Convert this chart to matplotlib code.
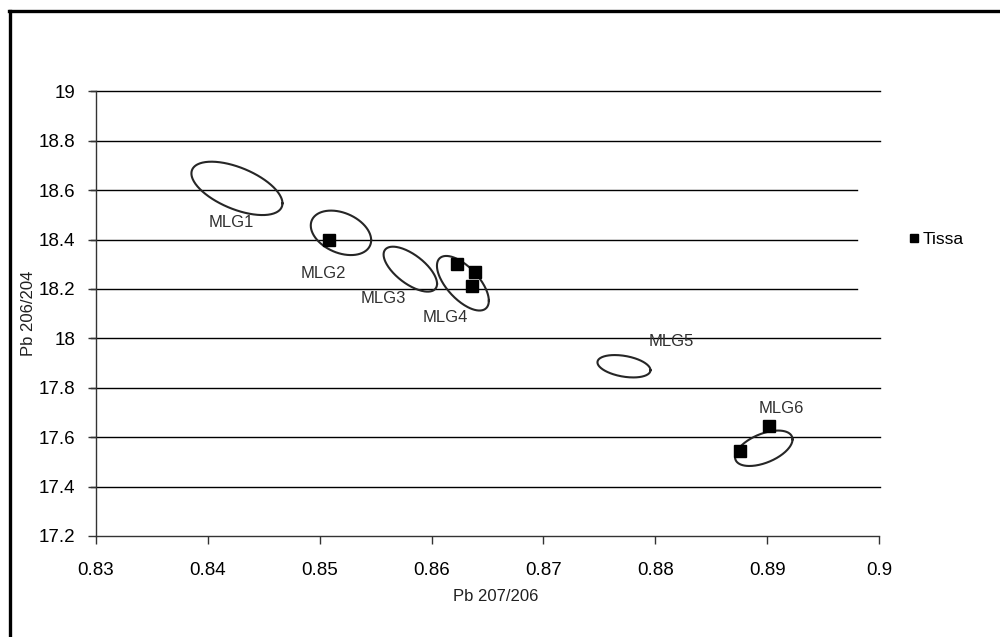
import numpy as np
import matplotlib
matplotlib.use("Agg")
import matplotlib.pyplot as plt
from matplotlib.lines import Line2D
from matplotlib.transforms import blended_transform_factory

plt.rcParams['font.family'] = ['Liberation Sans', 'DejaVu Sans']

# Tissa samples (Pb 207/206, Pb 206/204)
tissa_x = [0.8508, 0.8623, 0.8639, 0.8636, 0.8876, 0.8902]
tissa_y = [18.40, 18.30, 18.27, 18.21, 17.545, 17.645]

# MLG fields drawn as ellipses: centre, half extents and tilt (correlation)
mlg_names = ["MLG1", "MLG2", "MLG3", "MLG4", "MLG5", "MLG6"]
mlg_cx = [0.8426, 0.8519, 0.8581, 0.8628, 0.8772, 0.8897]
mlg_cy = [18.607, 18.427, 18.280, 18.223, 17.887, 17.555]
mlg_sx = [0.00407, 0.00270, 0.00239, 0.00232, 0.00237, 0.00257]
mlg_sy = [0.108, 0.090, 0.091, 0.1105, 0.0453, 0.0717]
mlg_rho = [-0.56, -0.33, -0.65, -0.64, -0.35, 0.50]

# where the field labels sit
label_x = [0.8421, 0.8503, 0.8557, 0.8612, 0.8814, 0.8913]
label_y = [18.467, 18.263, 18.162, 18.086, 17.989, 17.714]

x_ticks = [0.83, 0.84, 0.85, 0.86, 0.87, 0.88, 0.89, 0.90]
x_tick_labels = ["0.83", "0.84", "0.85", "0.86", "0.87", "0.88", "0.89", "0.9"]
y_ticks = [17.2, 17.4, 17.6, 17.8, 18.0, 18.2, 18.4, 18.6, 18.8, 19.0]
y_tick_labels = ["17.2", "17.4", "17.6", "17.8", "18", "18.2", "18.4", "18.6", "18.8", "19"]
short_grid = [18.2, 18.4, 18.6]

fig = plt.figure(figsize=(10, 6.37), dpi=100)
ax = fig.add_axes([0.096, 0.1586, 0.783, 0.6981])
ax.set_xlim(0.83, 0.90)
ax.set_ylim(17.2, 19.0)

# grid lines, reaching a little past the left axis like the ticks do
trans = blended_transform_factory(ax.transAxes, ax.transData)
for yv in y_ticks[1:]:
    x_end = 0.972 if yv in short_grid else 1.0015
    ax.plot([-0.0065, x_end], [yv, yv], color='black', lw=1.0,
            transform=trans, clip_on=False, zorder=1)

# ellipses
t = np.linspace(0, 2 * np.pi, 200)
for cx, cy, sx, sy, rho in zip(mlg_cx, mlg_cy, mlg_sx, mlg_sy, mlg_rho):
    ex = cx + sx * np.cos(t)
    ey = cy + sy * (rho * np.cos(t) + np.sqrt(1 - rho ** 2) * np.sin(t))
    ax.plot(ex, ey, color='#262626', lw=1.5, zorder=2)

for name, lx, ly in zip(mlg_names, label_x, label_y):
    ax.text(lx, ly, name, ha='center', va='center', fontsize=12, color='#303030', zorder=4)

ax.plot(tissa_x, tissa_y, ls='none', marker='s', ms=8.4, color='black',
        label='Tissa', zorder=3)

ax.set_xticks(x_ticks)
ax.set_xticklabels(x_tick_labels)
ax.set_yticks(y_ticks)
ax.set_yticklabels(y_tick_labels)
ax.tick_params(axis='x', direction='out', length=6, width=1, pad=13,
               labelsize=13.5, color='#333333')
ax.tick_params(axis='y', direction='out', length=6, width=1, pad=9,
               labelsize=13.5, color='#333333')

for side in ['top', 'right']:
    ax.spines[side].set_visible(False)
for side in ['left', 'bottom']:
    ax.spines[side].set_color('#333333')
    ax.spines[side].set_linewidth(1.0)

ax.set_xlabel('Pb 207/206', fontsize=12, color='#202020')
ax.xaxis.set_label_coords(0.511, -0.137)
ax.xaxis.label.set_va('center')
ax.set_ylabel('Pb 206/204', fontsize=12, color='#202020')
ax.yaxis.set_label_coords(-0.0856, 0.5)
ax.yaxis.label.set_va('center')

ax.legend(loc='center left', bbox_to_anchor=(0.909, 0.6243),
          bbox_transform=fig.transFigure, frameon=False, fontsize=12.5,
          handlelength=0.6, handletextpad=0.2, borderpad=0, borderaxespad=0,
          markerscale=0.7)

# chart area border (only left and top edges visible)
fig.add_artist(Line2D([0.0098, 0.0098], [0.0, 0.9827], color='black', lw=2.4,
                      transform=fig.transFigure))
fig.add_artist(Line2D([0.0086, 1.0], [0.9827, 0.9827], color='black', lw=2.4,
                      transform=fig.transFigure))

fig.savefig('out.png', dpi=100, facecolor='white')
